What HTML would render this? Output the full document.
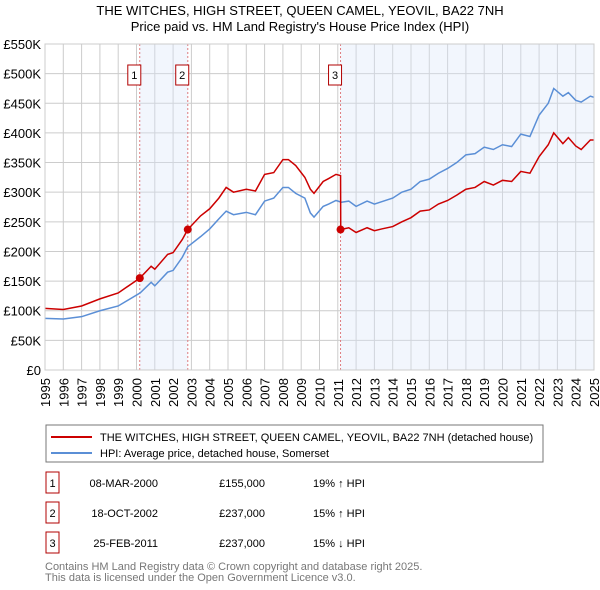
<!DOCTYPE html>
<html><head><meta charset="utf-8"><style>
body{margin:0;background:#fff;font-family:"Liberation Sans","DejaVu Sans",sans-serif;}
#wrap{position:relative;width:600px;height:590px;overflow:hidden;}
</style></head><body>
<div id="wrap">
<svg id="chart" width="600" height="590" font-family="Liberation Sans, DejaVu Sans, sans-serif">
<text x="300" y="15" text-anchor="middle" font-size="13">THE WITCHES, HIGH STREET, QUEEN CAMEL, YEOVIL, BA22 7NH</text>
<text x="300" y="31" text-anchor="middle" font-size="13">Price paid vs. HM Land Registry's House Price Index (HPI)</text>
<g id="grid"></g><g id="shade"></g><g id="series"></g><g id="axes"></g>
<rect x="46" y="425" width="497" height="37" fill="#fff" stroke="#777"/>
<line x1="51" y1="437" x2="92" y2="437" stroke="#cc0000" stroke-width="2"/>
<text x="100" y="441" font-size="11">THE WITCHES, HIGH STREET, QUEEN CAMEL, YEOVIL, BA22 7NH (detached house)</text>
<line x1="51" y1="453" x2="92" y2="453" stroke="#5b8fd6" stroke-width="2"/>
<text x="100" y="457" font-size="11">HPI: Average price, detached house, Somerset</text>
<g id="table" font-size="11"></g>
<text x="45" y="570" font-size="11" fill="#777">Contains HM Land Registry data © Crown copyright and database right 2025.</text>
<text x="45" y="581" font-size="11" fill="#777">This data is licensed under the Open Government Licence v3.0.</text>
</svg>
</div>
<script>
const yTicks=[0,50,100,150,200,250,300,350,400,450,500,550];
const yTickLabels=["£0","£50K","£100K","£150K","£200K","£250K","£300K","£350K","£400K","£450K","£500K","£550K"];
const years=[1995,1996,1997,1998,1999,2000,2001,2002,2003,2004,2005,2006,2007,2008,2009,2010,2011,2012,2013,2014,2015,2016,2017,2018,2019,2020,2021,2022,2023,2024,2025];
const hpiDates=[1995,1996,1997,1998,1999,2000.2,2000.8,2001,2001.7,2002,2002.5,2002.8,2003.5,2004,2004.5,2004.9,2005.3,2006,2006.5,2007,2007.5,2008,2008.3,2008.7,2009.2,2009.5,2009.7,2010.2,2010.5,2010.9,2011.2,2011.6,2012,2012.6,2013,2013.4,2014,2014.5,2015,2015.5,2016,2016.5,2017,2017.5,2018,2018.5,2019,2019.5,2020,2020.5,2021,2021.5,2022,2022.5,2022.8,2023.3,2023.6,2024,2024.3,2024.8,2025];
const hpiValues=[87,86,90,100,108,130,148,142,165,168,190,208,225,238,255,268,262,266,262,285,290,308,308,298,290,265,258,276,280,286,283,285,276,285,280,284,290,300,305,318,322,332,340,350,363,365,376,372,380,377,398,394,430,450,475,462,468,455,452,462,460];
const priceDates=[1995,1996,1997,1998,1999,2000.18,2000.8,2001,2001.7,2002,2002.5,2002.8,2003.5,2004,2004.5,2004.9,2005.3,2006,2006.5,2007,2007.5,2008,2008.3,2008.7,2009.2,2009.5,2009.7,2010.2,2010.5,2010.9,2011.15,2011.16,2011.6,2012,2012.6,2013,2013.4,2014,2014.5,2015,2015.5,2016,2016.5,2017,2017.5,2018,2018.5,2019,2019.5,2020,2020.5,2021,2021.5,2022,2022.5,2022.8,2023.3,2023.6,2024,2024.3,2024.8,2025];
const priceValues=[104,102,108,120,130,155,175,170,195,198,220,237,260,272,290,308,300,305,302,330,333,355,355,345,325,305,298,318,323,330,328,237,240,232,240,235,238,242,250,257,268,270,280,286,295,305,308,318,312,320,318,335,332,360,380,400,382,392,378,372,388,388];
const saleLabels=["1","2","3"];
const saleDates=[2000.18,2002.8,2011.15];
const saleValues=[155,237,237];
const saleDateText=["08-MAR-2000","18-OCT-2002","25-FEB-2011"];
const salePriceText=["£155,000","£237,000","£237,000"];
const saleHpiText=["19% ↑ HPI","15% ↑ HPI","15% ↓ HPI"];

const NS="http://www.w3.org/2000/svg";
const X0=45,X1=594,Y0=370,Y1=44;
const xs=t=>X0+(t-1995)/30*(X1-X0);
const ys=v=>Y0-v/550*(Y0-Y1);
function mk(tag,attrs,parent,text){const e=document.createElementNS(NS,tag);for(const k in attrs)e.setAttribute(k,attrs[k]);if(text!==undefined)e.textContent=text;parent.appendChild(e);return e;}
const grid=document.getElementById('grid'),shade=document.getElementById('shade'),series=document.getElementById('series'),axes=document.getElementById('axes'),table=document.getElementById('table');
// shading
const s1=mk('rect',{x:xs(saleDates[0]),y:Y1,width:xs(saleDates[1])-xs(saleDates[0]),height:Y0-Y1,fill:'#dbe5f8',opacity:0.35},shade);


const s2=mk('rect',{x:xs(saleDates[2]),y:Y1,width:X1-xs(saleDates[2]),height:Y0-Y1,fill:'#dbe5f8',opacity:0.35},shade);


yTicks.forEach((v,i)=>{
 const l=mk('line',{x1:X0,x2:X1,y1:ys(v),y2:ys(v),stroke:'#ccc'},grid);
 
 
 const t=mk('text',{x:41,y:ys(v)+5,'text-anchor':'end','font-size':13},axes,yTickLabels[i]);
 
 
});
years.forEach(y=>{
 const l=mk('line',{x1:xs(y),x2:xs(y),y1:Y1,y2:Y0,stroke:'#ccc'},grid);
 
 
 const t=mk('text',{transform:`translate(${xs(y)+5},407) rotate(-90)`,'font-size':13},axes,String(y));
 
 
});
saleDates.forEach((d,i)=>{
 const l=mk('line',{x1:xs(d),x2:xs(d),y1:Y1,y2:Y0,stroke:'#e06666','stroke-dasharray':'2,2'},grid);
 
 
 const b=mk('rect',{x:xs(d)-12,y:65,width:13,height:20,fill:'#fff',stroke:'#b00000'},axes);
 
 
 const t=mk('text',{x:xs(d)-5.5,y:79,'text-anchor':'middle','font-size':11},axes,saleLabels[i]);
 
 
});
const hp=mk('polyline',{points:hpiDates.map((d,i)=>xs(d)+','+ys(hpiValues[i])).join(' '),fill:'none',stroke:'#5b8fd6','stroke-width':1.5},series);


const pp=mk('polyline',{points:priceDates.map((d,i)=>xs(d)+','+ys(priceValues[i])).join(' '),fill:'none',stroke:'#cc0000','stroke-width':1.5},series);


saleDates.forEach((d,i)=>{
 const c=mk('circle',{cx:xs(d),cy:ys(saleValues[i]),r:4,fill:'#cc0000'},series);
 
 
});
const ax=mk('rect',{x:X0,y:Y1,width:X1-X0,height:Y0-Y1,fill:'none',stroke:'#ccc'},axes);


const ry=[483,513,543];
saleLabels.forEach((s,i)=>{
 const b=mk('rect',{x:46,y:ry[i]-11,width:13,height:21,fill:'#fff',stroke:'#b00000'},table);
 
 
 const t0=mk('text',{x:52.5,y:ry[i]+4,'text-anchor':'middle'},table,s);
 
 
 const t1=mk('text',{x:158,y:ry[i]+4,'text-anchor':'end'},table,saleDateText[i]);
 
 
 const t2=mk('text',{x:265,y:ry[i]+4,'text-anchor':'end'},table,salePriceText[i]);
 
 
 const t3=mk('text',{x:313,y:ry[i]+4},table,saleHpiText[i]);
 
 
});
</script>
</body></html>
